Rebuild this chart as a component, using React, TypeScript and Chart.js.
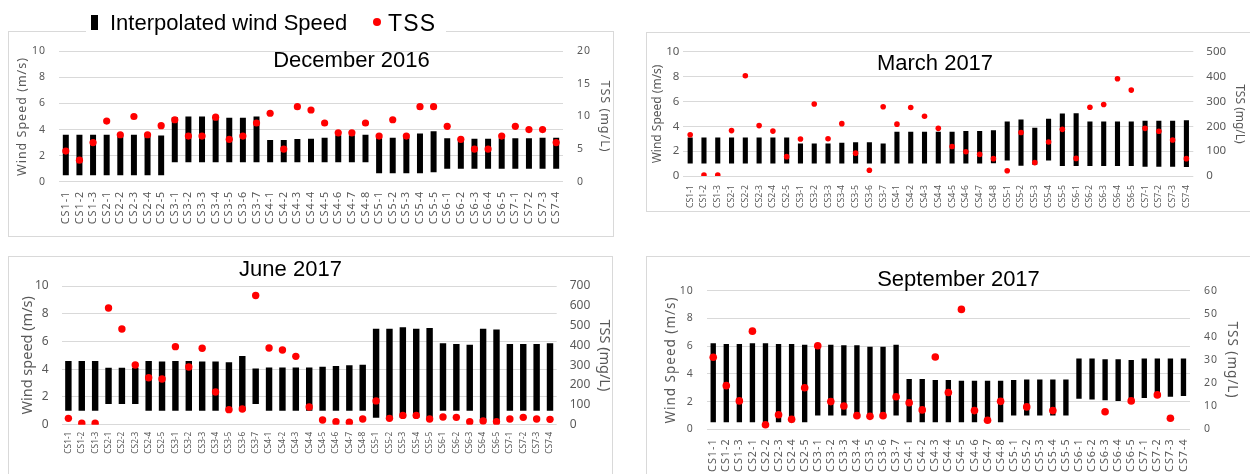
import React, { useEffect, useRef } from 'react';
import { Chart, registerables } from 'chart.js';

Chart.register(...registerables);

const stations = [
  'CS1-1', 'CS1-2', 'CS1-3',
  'CS2-1', 'CS2-2', 'CS2-3', 'CS2-4', 'CS2-5',
  'CS3-1', 'CS3-2', 'CS3-3', 'CS3-4', 'CS3-5', 'CS3-6', 'CS3-7',
  'CS4-1', 'CS4-2', 'CS4-3', 'CS4-4', 'CS4-5', 'CS4-6', 'CS4-7', 'CS4-8',
  'CS5-1', 'CS5-2', 'CS5-3', 'CS5-4', 'CS5-5',
  'CS6-1', 'CS6-2', 'CS6-3', 'CS6-4', 'CS6-5',
  'CS7-1', 'CS7-2', 'CS7-3', 'CS7-4',
];

const windTicks = [0, 2, 4, 6, 8, 10];

// December 2016
const decWindLow = [
  0.5, 0.5, 0.5,
  0.5, 0.5, 0.5, 0.5, 0.5,
  1.5, 1.5, 1.5, 1.5, 1.5, 1.5, 1.5,
  1.5, 1.5, 1.5, 1.5, 1.5, 1.5, 1.5, 1.5,
  0.65, 0.65, 0.65, 0.65, 0.72,
  1.0, 1.0, 1.0, 1.0, 1.0,
  1.0, 1.0, 1.0, 1.0,
];
const decWindHigh = [
  3.6, 3.6, 3.6,
  3.6, 3.6, 3.6, 3.6, 3.55,
  4.95, 5.0, 5.0, 5.0, 4.9, 4.9, 5.0,
  3.2, 3.2, 3.28, 3.3, 3.37, 3.57, 3.57, 3.6,
  3.45, 3.37, 3.45, 3.69, 3.86,
  3.33, 3.33, 3.3, 3.3, 3.33,
  3.33, 3.33, 3.37, 3.37,
];
const decTss = [
  4.7, 3.3, 6.0,
  9.3, 7.2, 10.0, 7.2, 8.6,
  9.5, 7.0, 7.0, 9.9, 6.5, 7.0, 9.0,
  10.5, 5.0, 11.5, 11.0, 9.0, 7.5, 7.5, 9.0,
  7.0, 9.5, 7.0, 11.5, 11.5,
  8.5, 6.5, 5.0, 5.0, 7.0,
  8.5, 8.0, 8.0, 6.0,
];
const decTssTicks = [0, 5, 10, 15, 20];

// March 2017
const marWindLow = [
  1.0, 1.0, 1.0,
  1.0, 1.0, 1.0, 1.0, 1.0,
  1.0, 1.0, 1.0, 1.0, 1.0, 1.0, 1.0,
  1.0, 1.0, 1.0, 1.0, 1.0, 1.0, 1.0, 1.03,
  1.24, 0.83, 0.9, 1.24, 0.8,
  0.8, 0.8, 0.8, 0.8, 0.8,
  0.75, 0.75, 0.75, 0.73,
];
const marWindHigh = [
  3.1, 3.1, 3.1,
  3.1, 3.1, 3.1, 3.1, 3.1,
  2.62, 2.62, 2.62, 2.67, 2.72, 2.72, 2.62,
  3.57, 3.57, 3.57, 3.57, 3.57, 3.63, 3.63, 3.68,
  4.4, 4.56, 3.89, 4.61, 5.03,
  5.05, 4.4, 4.4, 4.4, 4.4,
  4.46, 4.46, 4.46, 4.5,
];
const marTss = [
  166, 4, 4,
  183, 404, 203, 181, 78,
  149, 290, 150, 211, 92, 23, 279,
  209, 276, 241, 192, 119, 98, 87, 70,
  21, 175, 54, 137, 188,
  71, 277, 288, 392, 346,
  192, 180, 145, 70,
];
const marTssTicks = [0, 100, 200, 300, 400, 500];

// June 2017
const junWindLow = [
  1.0, 1.0, 1.0,
  1.5, 1.5, 1.5, 1.0, 1.0,
  1.0, 1.0, 1.0, 1.0, 1.0, 1.0, 1.5,
  1.0, 1.0, 1.0, 1.0, 1.0, 1.0, 1.0, 1.0,
  0.5, 0.5, 0.5, 0.5, 0.5,
  1.0, 1.0, 1.0, 0.3, 0.3,
  1.0, 1.0, 1.0, 1.0,
];
const junWindHigh = [
  4.6, 4.6, 4.6,
  4.1, 4.1, 4.1, 4.6, 4.55,
  4.6, 4.6, 4.55, 4.55, 4.5, 4.95, 4.06,
  4.13, 4.13, 4.13, 4.13, 4.18, 4.23, 4.28, 4.33,
  6.92, 6.92, 7.02, 6.92, 6.97,
  5.87, 5.82, 5.77, 6.92, 6.87,
  5.82, 5.82, 5.82, 5.87,
];
const junTss = [
  32, 7, 7,
  589, 483, 301, 237, 231,
  394, 291, 386, 165, 76, 79, 652,
  387, 377, 345, 89, 24, 15, 12, 29,
  120, 32, 47, 47, 29,
  39, 37, 15, 19, 15,
  29, 37, 29, 27,
];
const junTssTicks = [0, 100, 200, 300, 400, 500, 600, 700];

// September 2017
const sepWindLow = [
  0.5, 0.5, 0.5,
  0.5, 0.5, 0.5, 0.5, 0.5,
  1.0, 1.0, 1.0, 1.0, 1.0, 1.0, 1.0,
  0.5, 0.5, 0.5, 0.5, 0.5, 0.5, 0.5, 0.5,
  1.0, 1.0, 1.0, 1.0, 1.0,
  2.2, 2.15, 2.1, 2.05, 2.1,
  2.25, 2.35, 2.35, 2.4,
];
const sepWindHigh = [
  6.2, 6.15, 6.15,
  6.2, 6.2, 6.15, 6.15, 6.1,
  6.1, 6.1, 6.06, 6.06, 5.96, 5.96, 6.1,
  3.63, 3.63, 3.56, 3.56, 3.51, 3.51, 3.51, 3.51,
  3.56, 3.6, 3.6, 3.6, 3.6,
  5.1, 5.1, 5.05, 5.05, 5.0,
  5.1, 5.1, 5.1, 5.1,
];
const sepTss = [
  31.2, 18.9, 12.3,
  42.5, 2.0, 6.3, 4.3, 18.0,
  36.2, 12.0, 10.1, 5.9, 5.6, 5.9, 14.1,
  11.5, 8.4, 31.3, 15.9, 51.9, 8.1, 3.9, 12.1,
  null, 9.7, null, 8.1, null,
  null, null, 7.6, null, 12.3,
  null, 14.9, 4.8, null,
];
const sepTssTicks = [0, 10, 20, 30, 40, 50, 60];

const TICK_FONT = "'Noto Sans', 'DejaVu Sans', sans-serif";
const TEXT_FONT = "'Liberation Sans', Arial, sans-serif";
const GREY = '#595959';

type Cfg = {
  title: string;
  titleX: number;
  titleY: number;
  leftTitle: string;
  box: { x: number; y: number; w: number; h: number };
  area: { l: number; r: number; t: number; b: number };
  low: number[];
  high: number[];
  tss: (number | null)[];
  tssTicks: number[];
  ls: number;
  tickSize: number;
  xSize: number;
  titleSize: number;
  leftPad: number;
  rightPad: number;
  leftTitlePad: number;
  rightTitlePad: number;
  xPad: number;
  barPct: number;
  radius: number;
};

const panels: Cfg[] = [
  {
    title: 'December 2016', titleX: 351.5, titleY: 59.5, leftTitle: 'Wind Speed (m/s)',
    box: { x: 8, y: 31, w: 606, h: 206 },
    area: { l: 59, r: 563, t: 43.3, b: 181.7 },
    low: decWindLow, high: decWindHigh, tss: decTss, tssTicks: decTssTicks,
    ls: 1, tickSize: 10.5, xSize: 10.8, titleSize: 12.5,
    leftPad: 13, rightPad: 14, leftTitlePad: 7, rightTitlePad: 1.5, xPad: 9,
    barPct: 0.44, radius: 3.6,
  },
  {
    title: 'March 2017', titleX: 935, titleY: 62.5, leftTitle: 'Wind Speed (m/s)',
    box: { x: 646, y: 32, w: 606, h: 180 },
    area: { l: 683.3, r: 1193.3, t: 47.3, b: 176 },
    low: marWindLow, high: marWindHigh, tss: marTss, tssTicks: marTssTicks,
    ls: 0, tickSize: 11.5, xSize: 8.7, titleSize: 12,
    leftPad: 4, rightPad: 13, leftTitlePad: 4.8, rightTitlePad: 5.8, xPad: 9,
    barPct: 0.37, radius: 2.8,
  },
  {
    title: 'June 2017', titleX: 290.5, titleY: 268.8, leftTitle: 'Wind speed (m/s)',
    box: { x: 8, y: 256, w: 605, h: 222 },
    area: { l: 61.7, r: 556.7, t: 286, b: 424.7 },
    low: junWindLow, high: junWindHigh, tss: junTss, tssTicks: junTssTicks,
    ls: 0, tickSize: 12, xSize: 8.3, titleSize: 14.5,
    leftPad: 13, rightPad: 13, leftTitlePad: 10.8, rightTitlePad: 0.3, xPad: 7,
    barPct: 0.48, radius: 3.7,
  },
  {
    title: 'September 2017', titleX: 958.5, titleY: 279, leftTitle: 'Wind Speed (m/s)',
    box: { x: 646, y: 256, w: 606, h: 222 },
    area: { l: 706.7, r: 1190, t: 290.7, b: 429.3 },
    low: sepWindLow, high: sepWindHigh, tss: sepTss, tssTicks: sepTssTicks,
    ls: 1, tickSize: 10.5, xSize: 10.8, titleSize: 13.5,
    leftPad: 13, rightPad: 14, leftTitlePad: 16.9, rightTitlePad: 12.4, xPad: 9,
    barPct: 0.41, radius: 3.8,
  },
];

function Panel({ cfg }: { cfg: Cfg }) {
  const ref = useRef<HTMLCanvasElement>(null);
  useEffect(() => {
    const canvas = ref.current;
    if (!canvas) return;
    const { box, area } = cfg;
    const leftW = area.l - box.x;
    const rightW = box.x + box.w - area.r;
    const padTop = area.t - box.y;
    const xH = box.y + box.h - area.b;
    const lsStr = cfg.ls + 'px';
    const lsPlugin = {
      id: 'letterSpacing',
      beforeUpdate(chart: any) { try { chart.ctx.letterSpacing = lsStr; } catch (e) { /* ignore */ } },
      beforeDraw(chart: any) { try { chart.ctx.letterSpacing = lsStr; } catch (e) { /* ignore */ } },
    };
    const tssMax = cfg.tssTicks[cfg.tssTicks.length - 1];
    const tssStep = cfg.tssTicks[1] - cfg.tssTicks[0];
    const chart = new Chart(canvas, {
      type: 'bar',
      data: {
        labels: stations,
        datasets: [
          {
            type: 'line',
            label: 'TSS',
            data: cfg.tss,
            yAxisID: 'y1',
            showLine: false,
            pointRadius: cfg.radius,
            pointHoverRadius: cfg.radius,
            pointBackgroundColor: '#ff0000',
            pointBorderWidth: 0,
            borderColor: '#ff0000',
            order: 0,
          } as any,
          {
            type: 'bar',
            label: 'Interpolated wind Speed',
            data: cfg.low.map((l, i) => [l, cfg.high[i]]),
            yAxisID: 'y',
            backgroundColor: '#000000',
            borderWidth: 0,
            barPercentage: cfg.barPct,
            categoryPercentage: 1,
            order: 1,
          } as any,
        ],
      },
      options: {
        responsive: false,
        animation: false,
        layout: { padding: { top: padTop, left: 0, right: 0, bottom: 0 } },
        plugins: { legend: { display: false }, tooltip: { enabled: false }, title: { display: false } },
        scales: {
          x: {
            grid: { display: false, drawTicks: false },
            border: { display: false },
            ticks: {
              autoSkip: false, minRotation: 90, maxRotation: 90, padding: cfg.xPad,
              color: GREY, font: { family: TICK_FONT, size: cfg.xSize },
            },
            afterFit: (s: any) => { s.height = xH; },
          },
          y: {
            position: 'left',
            min: windTicks[0], max: windTicks[windTicks.length - 1],
            grid: { color: '#d9d9d9', lineWidth: 1, drawTicks: false },
            border: { display: false },
            ticks: {
              stepSize: windTicks[1] - windTicks[0], padding: cfg.leftPad,
              color: GREY, font: { family: TICK_FONT, size: cfg.tickSize },
            },
            title: {
              display: true, text: cfg.leftTitle, color: GREY,
              font: { family: TICK_FONT, size: cfg.titleSize },
              padding: { top: cfg.leftTitlePad, bottom: 0 },
            },
            afterFit: (s: any) => { s.width = leftW; },
          },
          y1: {
            position: 'right',
            min: 0, max: tssMax,
            grid: { display: false, drawTicks: false },
            border: { display: false },
            ticks: {
              stepSize: tssStep, padding: cfg.rightPad,
              color: GREY, font: { family: TICK_FONT, size: cfg.tickSize },
            },
            title: {
              display: true, text: 'TSS (mg/L)', color: GREY,
              font: { family: TICK_FONT, size: cfg.titleSize },
              padding: { top: cfg.rightTitlePad, bottom: 0 },
            },
            afterFit: (s: any) => { s.width = rightW; },
          },
        },
      } as any,
      plugins: [lsPlugin as any],
    });
    return () => chart.destroy();
  }, [cfg]);

  const { box } = cfg;
  return (
    <>
      <canvas
        ref={ref}
        width={box.w}
        height={box.h}
        style={{ position: 'absolute', left: box.x, top: box.y, width: box.w, height: box.h }}
      />
      <div
        style={{
          position: 'absolute', left: box.x, top: box.y, width: box.w, height: box.h,
          boxSizing: 'border-box', border: '1px solid #d9d9d9', pointerEvents: 'none',
        }}
      />
      <div
        style={{
          position: 'absolute', left: cfg.titleX, top: cfg.titleY, transform: 'translate(-50%, -50%)',
          whiteSpace: 'nowrap', fontFamily: TEXT_FONT, fontSize: 22, color: '#000', lineHeight: 'normal',
        }}
      >
        {cfg.title}
      </div>
    </>
  );
}

export default function App() {
  return (
    <div
      style={{
        position: 'absolute', left: 0, top: 0, width: 1250, height: 474,
        overflow: 'hidden', background: '#ffffff',
      }}
    >
      {panels.map((p) => (
        <Panel key={p.title} cfg={p} />
      ))}
      <div
        style={{
          position: 'absolute', left: 86, top: 8, width: 360, height: 30, background: '#ffffff',
        }}
      />
      <div style={{ position: 'absolute', left: 91, top: 15, width: 7, height: 15, background: '#000' }} />
      <div
        style={{
          position: 'absolute', left: 110, top: 22.5, transform: 'translateY(-50%)',
          whiteSpace: 'nowrap', fontFamily: TEXT_FONT, fontSize: 22, color: '#000', lineHeight: 'normal',
        }}
      >
        Interpolated wind Speed
      </div>
      <div
        style={{
          position: 'absolute', left: 373, top: 18, width: 8, height: 8, borderRadius: '50%', background: '#ff0000',
        }}
      />
      <div
        style={{
          position: 'absolute', left: 388, top: 22.5, transform: 'translateY(-50%)',
          whiteSpace: 'nowrap', fontFamily: TEXT_FONT, fontSize: 23, color: '#000', lineHeight: 'normal',
          letterSpacing: '1.2px',
        }}
      >
        TSS
      </div>
    </div>
  );
}
